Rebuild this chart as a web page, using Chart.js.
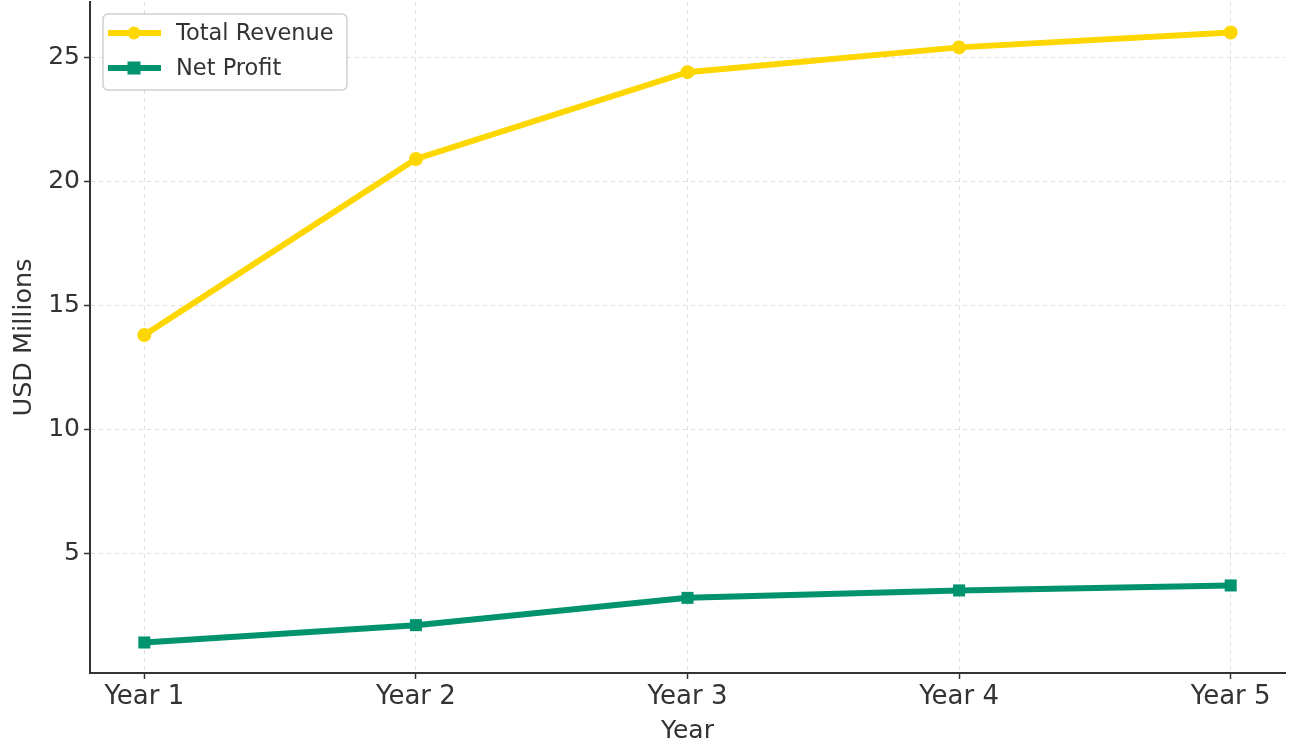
<!DOCTYPE html>
<html>
<head>
<meta charset="utf-8">
<script src="https://cdn.jsdelivr.net/npm/chart.js@4/dist/chart.umd.min.js"></script>
<style>
  html, body { margin: 0; padding: 0; background: #ffffff; }
  #wrap { width: 1290px; height: 747px; position: relative; }
</style>
</head>
<body>
<div id="wrap"><canvas id="c" width="1290" height="747"></canvas></div>
<script>
const categories = ["Year 1", "Year 2", "Year 3", "Year 4", "Year 5"];
const totalRevenue = [13.8, 20.9, 24.4, 25.4, 26.0];
const netProfit = [1.4, 2.1, 3.2, 3.5, 3.7];
const yTicks = [5, 10, 15, 20, 25];
const seriesNames = ["Total Revenue", "Net Profit"];

const FONT = "'DejaVu Sans', sans-serif";
const TEXT = "#333333";
const YELLOW = "#FFD700";
const GREEN = "#00936E";

const toPoints = arr => arr.map((v, i) => ({ x: i + 1, y: v }));

const legendPlugin = {
  id: 'mplLegend',
  afterDraw(chart) {
    const ctx = chart.ctx;
    const x0 = 103, y0 = 14, w = 244, h = 76, r = 5;
    ctx.save();
    ctx.beginPath();
    ctx.moveTo(x0 + r, y0);
    ctx.arcTo(x0 + w, y0, x0 + w, y0 + h, r);
    ctx.arcTo(x0 + w, y0 + h, x0, y0 + h, r);
    ctx.arcTo(x0, y0 + h, x0, y0, r);
    ctx.arcTo(x0, y0, x0 + w, y0, r);
    ctx.closePath();
    ctx.fillStyle = "rgba(255,255,255,0.85)";
    ctx.fill();
    ctx.strokeStyle = "#d0d0d0";
    ctx.lineWidth = 1.5;
    ctx.stroke();
    const rows = [
      { name: seriesNames[0], color: YELLOW, style: 'circle', y: 33 },
      { name: seriesNames[1], color: GREEN, style: 'rect', y: 68 }
    ];
    rows.forEach(row => {
      ctx.beginPath();
      ctx.strokeStyle = row.color;
      ctx.lineWidth = 6;
      ctx.lineCap = 'butt';
      ctx.moveTo(108, row.y);
      ctx.lineTo(161, row.y);
      ctx.stroke();
      ctx.fillStyle = row.color;
      if (row.style === 'circle') {
        ctx.beginPath();
        ctx.arc(134, row.y, 6.5, 0, Math.PI * 2);
        ctx.fill();
      } else {
        ctx.fillRect(127.5, row.y - 6.5, 13, 13);
      }
      ctx.fillStyle = TEXT;
      ctx.font = "22.5px " + FONT;
      ctx.textBaseline = 'middle';
      ctx.textAlign = 'left';
      ctx.fillText(row.name, 176, row.y + 1);
    });
    ctx.restore();
  }
};

new Chart(document.getElementById('c'), {
  type: 'line',
  data: {
    datasets: [
      {
        label: seriesNames[0],
        data: toPoints(totalRevenue),
        borderColor: YELLOW,
        backgroundColor: YELLOW,
        borderWidth: 6,
        pointStyle: 'circle',
        pointRadius: 7,
        pointBorderWidth: 0,
        tension: 0
      },
      {
        label: seriesNames[1],
        data: toPoints(netProfit),
        borderColor: GREEN,
        backgroundColor: GREEN,
        borderWidth: 6,
        pointStyle: 'rect',
        pointRadius: 8.5,
        pointBorderWidth: 0,
        tension: 0
      }
    ]
  },
  options: {
    responsive: false,
    animation: false,
    devicePixelRatio: 1,
    layout: { autoPadding: false, padding: { top: 2, right: 5, left: 0, bottom: 0 } },
    plugins: {
      legend: { display: false },
      tooltip: { enabled: false }
    },
    scales: {
      x: {
        type: 'linear',
        min: 0.8,
        max: 5.2,
        afterBuildTicks(scale) {
          scale.ticks = categories.map((c, i) => ({ value: i + 1 }));
        },
        afterFit(scale) { scale.height = 74; scale.paddingLeft = 0; scale.paddingRight = 0; },
        ticks: {
          callback: (v) => categories[Math.round(v) - 1] ?? '',
          font: { family: FONT, size: 26 },
          color: TEXT,
          padding: 3,
          maxRotation: 0,
          autoSkip: false
        },
        grid: {
          color: 'rgba(0,0,0,0.13)',
          lineWidth: 1,
          tickLength: 6,
          tickColor: '#333333',
          tickWidth: 1.5,
          tickBorderDash: []
        },
        border: { display: true, color: '#333333', width: 2, dash: [4, 4] },
        title: {
          display: true,
          text: 'Year',
          font: { family: FONT, size: 25 },
          color: TEXT,
          padding: { top: 0, bottom: 1 }
        }
      },
      y: {
        type: 'linear',
        min: 0.17,
        max: 27.23,
        afterBuildTicks(scale) {
          scale.ticks = yTicks.map(v => ({ value: v }));
        },
        afterFit(scale) { scale.width = 90; scale.paddingTop = 0; scale.paddingBottom = 0; },
        ticks: {
          font: { family: FONT, size: 25 },
          color: TEXT,
          padding: 4
        },
        grid: {
          color: 'rgba(0,0,0,0.13)',
          lineWidth: 1,
          tickLength: 6,
          tickColor: '#333333',
          tickWidth: 1.5,
          tickBorderDash: []
        },
        border: { display: true, color: '#333333', width: 2, dash: [4, 4] },
        title: {
          display: true,
          text: 'USD Millions',
          font: { family: FONT, size: 25.5 },
          color: TEXT,
          padding: { top: 9, bottom: 0 }
        }
      }
    }
  },
  plugins: [legendPlugin]
});
</script>
</body>
</html>
